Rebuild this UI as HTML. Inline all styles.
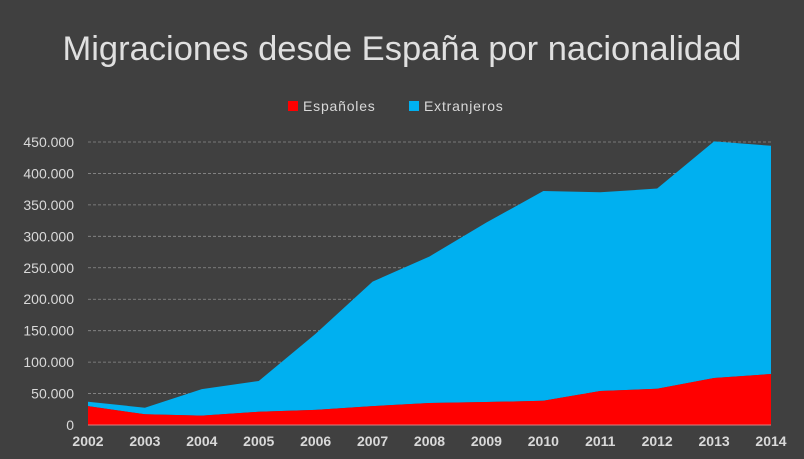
<!DOCTYPE html>
<html><head><meta charset="utf-8">
<style>
html,body{margin:0;padding:0;background:#404040;}
svg{display:block;font-family:"Liberation Sans",sans-serif;}
</style></head>
<body>
<svg id="chart" width="804" height="459" viewBox="0 0 804 459" xmlns="http://www.w3.org/2000/svg">
<rect x="0" y="0" width="804" height="459" fill="#404040"/>
<text x="402" y="60" text-anchor="middle" font-size="34.5" fill="#e0e0e0">Migraciones desde España por nacionalidad</text>
<g>
<rect x="288" y="101" width="10" height="10" fill="#ff0000"/>
<text x="303" y="111" font-size="14" fill="#d9d9d9" letter-spacing="0.8">Españoles</text>
<rect x="409" y="101" width="10" height="10" fill="#00b0f0"/>
<text x="424" y="111" font-size="14" fill="#d9d9d9" letter-spacing="0.8">Extranjeros</text>
</g>
<g id="grid"></g>
<g id="areas"></g>
<g id="yticks"></g>
<g id="xticks"></g>
</svg>
<script>
const years = ["2002","2003","2004","2005","2006","2007","2008","2009","2010","2011","2012","2013","2014"];
const espanoles = [30000,17000,15000,21000,24000,30000,35000,36500,38500,54000,57700,74700,81000];
const extranjeros = [7000,10500,42000,49000,121000,198000,233000,285500,333500,316000,318300,376300,363000];
const yTickValues = [0,50000,100000,150000,200000,250000,300000,350000,400000,450000];
const yTickLabels = ["0","50.000","100.000","150.000","200.000","250.000","300.000","350.000","400.000","450.000"];

const NS = "http://www.w3.org/2000/svg";
const x0 = 88, x1 = 771, yBase = 425, yTopPx = 142, yMax = 450000;
function xs(i){ return x0 + (x1 - x0) * i / (years.length - 1); }
function ys(v){ return yBase - (yBase - yTopPx) * v / yMax; }
function mk(tag, attrs){ const e = document.createElementNS(NS, tag); for (const k in attrs) e.setAttribute(k, attrs[k]); return e; }

const grid = document.getElementById('grid');
yTickValues.forEach((v, i) => {
  if (v > 0) {
    const l = mk('line', {x1: x0, x2: x1, y1: ys(v), y2: ys(v), stroke: '#8c8c8c', 'stroke-width': 0.8, 'stroke-dasharray': '3,2'});
    
    
    grid.appendChild(l);
  }
  const t = mk('text', {x: 74, y: ys(v) + 5, 'text-anchor': 'end', 'font-size': 14, fill: '#d9d9d9'});
  t.textContent = yTickLabels[i];
  
  
  document.getElementById('yticks').appendChild(t);
});

const areas = document.getElementById('areas');
const totals = espanoles.map((v, i) => v + extranjeros[i]);
const topPts = totals.map((v, i) => xs(i) + ',' + ys(v)).join(' ');
const midPts = espanoles.map((v, i) => xs(i) + ',' + ys(v));
const ext = mk('polygon', {points: topPts + ' ' + midPts.slice().reverse().join(' '), fill: '#00b0f0'});


areas.appendChild(ext);
const esp = mk('polygon', {points: midPts.join(' ') + ' ' + xs(years.length - 1) + ',' + yBase + ' ' + xs(0) + ',' + yBase, fill: '#ff0000'});


areas.appendChild(esp);
const axis = mk('line', {x1: x0, x2: x1, y1: yBase, y2: yBase, stroke: '#d98080', 'stroke-width': 1});


areas.appendChild(axis);

years.forEach((y, i) => {
  const t = mk('text', {x: xs(i), y: 446, 'text-anchor': 'middle', 'font-size': 14, 'font-weight': 'bold', fill: '#d9d9d9'});
  t.textContent = y;
  
  
  document.getElementById('xticks').appendChild(t);
});
</script>
</body></html>
